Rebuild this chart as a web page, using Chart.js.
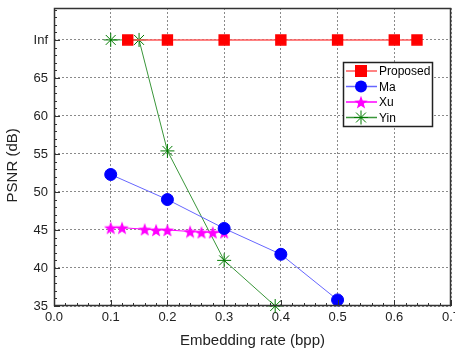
<!DOCTYPE html>
<html>
<head>
<meta charset="utf-8">
<script src="https://cdn.jsdelivr.net/npm/chart.js@4"></script>
<style>
  html, body { margin: 0; padding: 0; background: #fff; overflow: hidden; }
  canvas { display: block; }
</style>
</head>
<body>
<canvas id="myChart" width="455" height="354"></canvas>
<script>
// values ("Inf" is plotted on the 70 line)
const proposedX = [0.13, 0.2, 0.3, 0.4, 0.5, 0.6, 0.64];
const proposedY = [70, 70, 70, 70, 70, 70, 70];
const maX = [0.1, 0.2, 0.3, 0.4, 0.5];
const maY = [52.3, 49.0, 45.2, 41.8, 35.8];
const xuX = [0.1, 0.12, 0.16, 0.18, 0.2, 0.24, 0.26, 0.28, 0.3];
const xuY = [45.3, 45.3, 45.1, 45.0, 45.0, 44.8, 44.7, 44.7, 44.7];
const yinX = [0.1, 0.15, 0.2, 0.3, 0.39];
const yinY = [70, 70, 55.4, 41.0, 35.0];
const xTicks = [0, 0.1, 0.2, 0.3, 0.4, 0.5, 0.6, 0.7];
const yTicks = [35, 40, 45, 50, 55, 60, 65, 70];
const yTickLabels = ["35", "40", "45", "50", "55", "60", "65", "Inf"];

// plot box inside the canvas
const AREA = { left: 54, top: 8, right: 451, bottom: 306 };

function pts(xs, ys) {
  return xs.map((x, i) => ({ x: x, y: ys[i] }));
}

// filled five point star for Xu
function starImage(size, color) {
  const c = document.createElement("canvas");
  c.width = size; c.height = size;
  const g = c.getContext("2d");
  const cx = size / 2, cy = size / 2 + 0.8, R = size / 2, r = R * 0.42;
  g.beginPath();
  for (let i = 0; i < 10; i++) {
    const rad = i % 2 === 0 ? R : r;
    const a = -Math.PI / 2 + i * Math.PI / 5;
    g.lineTo(cx + rad * Math.cos(a), cy + rad * Math.sin(a));
  }
  g.closePath();
  g.fillStyle = color;
  g.fill();
  return c;
}
const xuStar = starImage(14, "#ff00ff");

const FONT = "'Liberation Sans', Arial, sans-serif";

// pin the plot box so the half-cut "0.7" sits at the right edge like the original
const pinPlugin = {
  id: "pin",
  afterLayout(chart) {
    const ca = chart.chartArea;
    Object.assign(ca, AREA);
    ca.width = AREA.right - AREA.left;
    ca.height = AREA.bottom - AREA.top;
    const xs = chart.scales.x, ys = chart.scales.y;
    xs.left = AREA.left; xs.right = AREA.right; xs.width = ca.width;
    xs.top = AREA.bottom; xs.bottom = chart.height; xs.height = xs.bottom - xs.top;
    ys.top = AREA.top; ys.bottom = AREA.bottom; ys.height = ca.height;
    ys.left = 0; ys.right = AREA.left; ys.width = AREA.left;
    xs.configure();
    ys.configure();
  }
};

// frame, inward ticks and the legend box
const framePlugin = {
  id: "frame",
  afterDraw(chart) {
    const ctx = chart.ctx;
    const a = chart.chartArea;
    const xs = chart.scales.x, ys = chart.scales.y;
    ctx.save();
    ctx.strokeStyle = "#333";
    ctx.lineWidth = 1;
    // minor + major ticks
    ctx.beginPath();
    for (let v = 0; v <= 0.7001; v += 0.02) {
      const px = Math.round(xs.getPixelForValue(v)) + 0.5;
      const major = Math.abs(v * 10 - Math.round(v * 10)) < 0.001;
      ctx.moveTo(px, a.bottom);
      ctx.lineTo(px, a.bottom - (major ? 6 : 3));
    }
    for (let v = 35; v <= 74; v += 1) {
      const py = Math.round(ys.getPixelForValue(v)) + 0.5;
      const major = v % 5 === 0;
      ctx.moveTo(a.left, py);
      ctx.lineTo(a.left + (major ? 6 : 3), py);
    }
    ctx.stroke();
    ctx.lineWidth = 1.5;
    ctx.strokeRect(a.left + 0.5, a.top + 0.5, a.right - a.left - 1, a.bottom - a.top - 1);

    // legend
    const lx = 343, ly = 62, lw = 89, lh = 64;
    ctx.fillStyle = "#fff";
    ctx.fillRect(lx, ly, lw, lh);
    ctx.lineWidth = 1.5;
    ctx.strokeStyle = "#222";
    ctx.strokeRect(lx + 0.5, ly + 0.5, lw, lh);
    ctx.font = "12px " + FONT;
    ctx.textBaseline = "middle";
    chart.data.datasets.forEach((ds, i) => {
      const y = ly + 9 + i * 15.5;
      ctx.strokeStyle = ds.borderColor;
      ctx.lineWidth = 1.5;
      ctx.beginPath();
      ctx.moveTo(lx + 3, y);
      ctx.lineTo(lx + 34, y);
      ctx.stroke();
      const cx = lx + 18;
      ctx.fillStyle = ds.pointBackgroundColor;
      ctx.strokeStyle = ds.pointBorderColor;
      ctx.lineWidth = 1;
      if (ds.pointStyle === "rect") {
        ctx.fillRect(cx - 6, y - 6, 12, 12);
      } else if (ds.pointStyle === "circle") {
        ctx.beginPath(); ctx.arc(cx, y, 6, 0, Math.PI * 2); ctx.fill();
      } else if (ds.pointStyle === "star") {
        ctx.beginPath();
        for (let k = 0; k < 4; k++) {
          const ang = k * Math.PI / 4;
          ctx.moveTo(cx - 7 * Math.cos(ang), y - 7 * Math.sin(ang));
          ctx.lineTo(cx + 7 * Math.cos(ang), y + 7 * Math.sin(ang));
        }
        ctx.stroke();
      } else {
        ctx.drawImage(ds.pointStyle, cx - 7, y - 7);
      }
      ctx.fillStyle = "#000";
      ctx.fillText(ds.label, lx + 36, y + 1);
    });
    ctx.restore();
  }
};

new Chart(document.getElementById("myChart").getContext("2d"), {
  type: "scatter",
  data: {
    datasets: [
      {
        label: "Proposed",
        data: pts(proposedX, proposedY),
        showLine: true,
        borderColor: "#ff5a5a",
        borderWidth: 1.5,
        pointStyle: "rect",
        pointRadius: 7,
        pointBackgroundColor: "#ff0000",
        pointBorderColor: "#ff0000",
        clip: false,
      },
      {
        label: "Ma",
        data: pts(maX, maY),
        showLine: true,
        borderColor: "#6666ff",
        borderWidth: 1,
        pointStyle: "circle",
        pointRadius: 6,
        pointBackgroundColor: "#0000ff",
        pointBorderColor: "#0000ff",
        clip: false,
      },
      {
        label: "Xu",
        data: pts(xuX, xuY),
        showLine: true,
        borderColor: "#ff00ff",
        borderWidth: 1,
        pointStyle: xuStar,
        pointBackgroundColor: "#ff00ff",
        pointBorderColor: "#ff00ff",
        clip: false,
      },
      {
        label: "Yin",
        data: pts(yinX, yinY),
        showLine: true,
        borderColor: "#3a963a",
        borderWidth: 1,
        pointStyle: "star",
        pointRadius: 7,
        pointBorderWidth: 1,
        pointBackgroundColor: "#007a00",
        pointBorderColor: "#007a00",
        clip: false,
      },
    ],
  },
  options: {
    responsive: false,
    animation: false,
    layout: { padding: { top: 8, right: 0, left: 0, bottom: 0 } },
    plugins: {
      legend: { display: false },
      tooltip: { enabled: false },
    },
    scales: {
      x: {
        type: "linear",
        min: 0,
        max: 0.7,
        afterBuildTicks: (s) => { s.ticks = xTicks.map((v) => ({ value: v })); },
        afterFit: (s) => { s.height = 48; },
        ticks: {
          color: "#222",
          font: { family: FONT, size: 13 },
          padding: 4,
          maxRotation: 0,
          callback: (v) => v.toFixed(1),
        },
        grid: { color: "#8a8a8a", drawTicks: false, lineWidth: 1 },
        border: { display: false, dash: [2, 2] },
        title: {
          display: true,
          text: "Embedding rate (bpp)",
          color: "#222",
          font: { family: FONT, size: 15 },
          padding: { top: 3 },
        },
      },
      y: {
        type: "linear",
        min: 35,
        max: 74.2,
        afterBuildTicks: (s) => { s.ticks = yTicks.map((v) => ({ value: v })); },
        afterFit: (s) => { s.width = 54; },
        ticks: {
          color: "#222",
          font: { family: FONT, size: 13 },
          padding: 6,
          callback: (v) => yTickLabels[yTicks.indexOf(v)],
        },
        grid: { color: "#8a8a8a", drawTicks: false, lineWidth: 1 },
        border: { display: false, dash: [2, 2] },
        title: {
          display: true,
          text: "PSNR (dB)    ",
          color: "#222",
          font: { family: FONT, size: 15 },
          padding: { bottom: 2 },
        },
      },
    },
  },
  plugins: [pinPlugin, framePlugin],
});
</script>
</body>
</html>
